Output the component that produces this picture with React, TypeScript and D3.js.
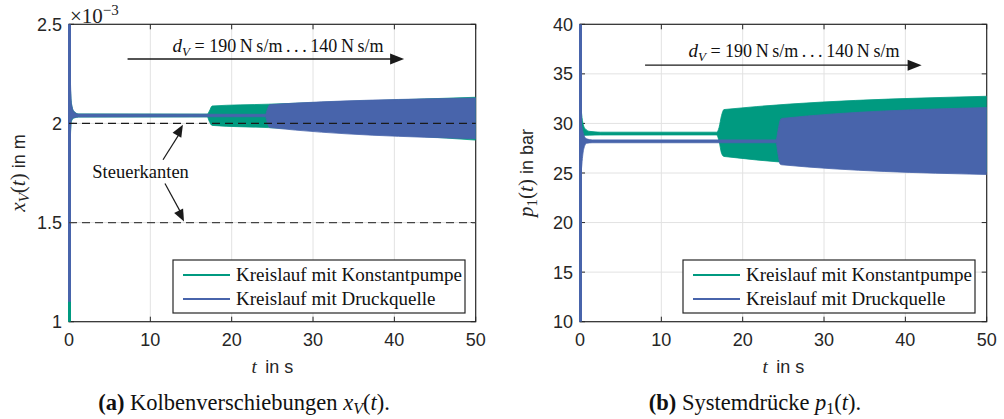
import React from 'react';
import * as d3 from 'd3';

// ---------- data ----------
const timeTicks = [0, 10, 20, 30, 40, 50];
const xvTicks = [1, 1.5, 2, 2.5];
const xvTickLabels = ['1', '1.5', '2', '2.5'];
const p1Ticks = [10, 15, 20, 25, 30, 35, 40];
const p1TickLabels = ['10', '15', '20', '25', '30', '35', '40'];

type Env = [number, number, number][]; // [t, upper, lower]

// piston displacement x_V in 1e-3 m (envelope of the oscillation)
const xvKonstantpumpe: Env = [
  [0, 2.34, 1.0], [0.06, 2.3, 1.3], [0.15, 2.2, 1.9], [0.3, 2.1, 2.012],
  [0.6, 2.06, 2.027], [1.2, 2.048, 2.032], [17.0, 2.047, 2.033],
  [17.25, 2.062, 2.01], [17.6, 2.088, 1.99], [24.5, 2.097, 1.979], [50, 2.132, 1.916],
];
const xvDruckquelle: Env = [
  [0, 2.5, 1.1], [0.06, 2.42, 1.4], [0.15, 2.25, 1.92], [0.3, 2.1, 2.017],
  [0.6, 2.06, 2.029], [1.2, 2.047, 2.033], [24.15, 2.046, 2.034],
  [24.4, 2.072, 2.0], [24.7, 2.095, 1.979], [50, 2.128, 1.923],
];
// initial transients at t = 0: [upper, lower]
const xvSpikes: [number, number][] = [[2.34, 1.0], [2.5, 1.1]];

// system pressure p1 in bar
const p1Konstantpumpe: Env = [
  [0, 32, 27], [0.1, 31.6, 28.6], [0.3, 30.3, 28.75], [0.6, 29.5, 28.8],
  [1.2, 29.2, 28.82], [2.5, 29.12, 28.84], [16.8, 29.12, 28.84],
  [17.1, 29.6, 28.2], [17.4, 30.8, 27.0], [17.7, 31.4, 26.67], [50, 32.74, 25.1],
];
const p1Druckquelle: Env = [
  [0, 40, 10], [0.1, 30.3, 24.5], [0.2, 29.8, 25.6], [0.45, 28.9, 27.4],
  [0.8, 28.45, 28.0], [1.5, 28.34, 28.05], [24.1, 28.34, 28.05],
  [24.35, 29.3, 26.9], [24.6, 30.3, 25.9], [24.8, 30.5, 25.83], [50, 31.6, 24.85],
];
const p1Spikes: [number, number][] = [[32, 27], [40, 10]];

const steuerkanten = [2.0, 1.5];
const legendLabels = ['Kreislauf mit Konstantpumpe', 'Kreislauf mit Druckquelle'];
const seriesColors = ['#009a80', '#4864ab'];

// ---------- style ----------
const AX = '#262626';
const GRID = '#e2e2e2';
const SANS = '"Liberation Sans", "DejaVu Sans", sans-serif';
const SERIF = '"Liberation Serif", "DejaVu Serif", serif';

function head(x1: number, y1: number, x2: number, y2: number, len: number, wid: number) {
  const a = Math.atan2(y2 - y1, x2 - x1);
  const bx = x2 - len * Math.cos(a), by = y2 - len * Math.sin(a);
  const nx = -Math.sin(a) * wid / 2, ny = Math.cos(a) * wid / 2;
  return `${x2},${y2} ${bx + nx},${by + ny} ${bx - nx},${by - ny}`;
}

type PanelProps = {
  id: string;
  left: number; right: number; top: number; bottom: number;
  yDomain: [number, number];
  yTicks: number[]; yLabels: string[];
  envs: Env[];
  spikes: [number, number][];
  extra: (x: d3.ScaleLinear<number, number>, y: d3.ScaleLinear<number, number>) => React.ReactNode;
  ylabel: React.ReactNode;
  ylabelX: number;
  legendX: number;
  caption: React.ReactNode;
  captionX: number;
};

function Panel(p: PanelProps) {
  const x = d3.scaleLinear().domain([0, 50]).range([p.left, p.right]);
  const y = d3.scaleLinear().domain(p.yDomain).range([p.bottom, p.top]);
  const area = d3.area<[number, number, number]>()
    .x(d => x(d[0])).y0(d => y(d[2])).y1(d => y(d[1]))
    .curve(d3.curveMonotoneX);
  const tl = 5;
  const lx = p.legendX, ly = 260, lw = 292, lh = 53;
  return (
    <g>
      <defs>
        <clipPath id={p.id}>
          <rect x={p.left - 2} y={p.top} width={p.right - p.left + 2} height={p.bottom - p.top} />
        </clipPath>
      </defs>
      <rect x={p.left} y={p.top} width={p.right - p.left} height={p.bottom - p.top} fill="#fff" />
      {timeTicks.slice(1, -1).map(t => (
        <line key={'gx' + t} x1={x(t)} x2={x(t)} y1={p.top} y2={p.bottom} stroke={GRID} strokeWidth={1} />
      ))}
      {p.yTicks.slice(1, -1).map(v => (
        <line key={'gy' + v} x1={p.left} x2={p.right} y1={y(v)} y2={y(v)} stroke={GRID} strokeWidth={1} />
      ))}
      <rect x={p.left} y={p.top} width={p.right - p.left} height={p.bottom - p.top} fill="none" stroke={AX} strokeWidth={1.2} />
      {timeTicks.map(t => (
        <g key={'tx' + t}>
          <line x1={x(t)} x2={x(t)} y1={p.bottom} y2={p.bottom - tl} stroke={AX} />
          <line x1={x(t)} x2={x(t)} y1={p.top} y2={p.top + tl} stroke={AX} />
          <text x={x(t)} y={346} textAnchor="middle" fontFamily={SANS} fontSize={18} fill={AX}>{t}</text>
        </g>
      ))}
      {p.yTicks.map((v, i) => (
        <g key={'ty' + v}>
          <line x1={p.left} x2={p.left + tl} y1={y(v)} y2={y(v)} stroke={AX} />
          <line x1={p.right} x2={p.right - tl} y1={y(v)} y2={y(v)} stroke={AX} />
          <text x={p.left - 7} y={y(v) + 6.5} textAnchor="end" fontFamily={SANS} fontSize={18} fill={AX}>{p.yLabels[i]}</text>
        </g>
      ))}
      <g clipPath={`url(#${p.id})`}>
        {p.envs.map((e, i) => (
          <path key={'env' + i} d={area(e) || ''} fill={seriesColors[i]} stroke={seriesColors[i]} strokeWidth={0.8} strokeLinejoin="round" />
        ))}
        {p.spikes.map((s, i) => (
          <line key={'sp' + i} x1={x(0) + 0.5} x2={x(0) + 0.5} y1={y(s[0])} y2={y(s[1])} stroke={seriesColors[i]} strokeWidth={3} />
        ))}
      </g>
      {p.extra(x, y)}
      {/* x label */}
      <text x={(p.left + p.right) / 2} y={373} textAnchor="middle" fontSize={18} fill={AX}>
        <tspan fontFamily={SERIF} fontStyle="italic" fontSize={19}>t</tspan>
        <tspan fontFamily={SANS}>{'\u2009 in s'}</tspan>
      </text>
      {/* y label */}
      <text transform={`translate(${p.ylabelX},${(p.top + p.bottom) / 2}) rotate(-90)`} textAnchor="middle" fontSize={18} fill={AX}>
        {p.ylabel}
      </text>
      {/* legend */}
      <rect x={lx} y={ly} width={lw} height={lh} fill="#fff" stroke={AX} strokeWidth={1.2} />
      {legendLabels.map((l, i) => (
        <g key={'lg' + i}>
          <line x1={lx + 10} x2={lx + 57} y1={ly + 15 + i * 24} y2={ly + 15 + i * 24} stroke={seriesColors[i]} strokeWidth={2.2} />
          <text x={lx + 63} y={ly + 21 + i * 24} fontFamily={SERIF} fontSize={19} fill="#111">{l}</text>
        </g>
      ))}
      {/* caption */}
      <text x={p.captionX} y={410} textAnchor="middle" fontFamily={SERIF} fontSize={22.5} fill="#111">
        {p.caption}
      </text>
    </g>
  );
}

function DvAnnotation({ x, y, t0, t1, v, tText, vText }: any) {
  const x1 = x(t0), x2 = x(t1), yy = y(v);
  return (
    <g>
      <line x1={x1} x2={x2 - 10} y1={yy} y2={yy} stroke="#1a1a1a" strokeWidth={1.3} />
      <polygon points={head(x1, yy, x2, yy, 14, 11)} fill="#1a1a1a" />
      <text x={x(tText)} y={y(vText)} textAnchor="middle" fontFamily={SERIF} fontSize={18} fill="#111">
        <tspan fontStyle="italic" fontSize={19}>d</tspan>
        <tspan fontStyle="italic" fontSize={13} dy={4}>V</tspan>
        <tspan dy={-4}>{' = 190\u2009N\u2009s/m\u2009.\u2009.\u2009.\u2009140\u2009N\u2009s/m'}</tspan>
      </text>
    </g>
  );
}

export default function App() {
  const W = 1004, H = 419;
  return (
    <svg width={W} height={H} style={{ position: 'absolute', left: 0, top: 0, background: '#fff' }}>
      <rect width={W} height={H} fill="#fff" />
      <Panel
        id="clipA" left={69} right={475.7} top={24.3} bottom={321.7}
        yDomain={[1, 2.5]} yTicks={xvTicks} yLabels={xvTickLabels}
        envs={[xvKonstantpumpe, xvDruckquelle]} spikes={xvSpikes}
        ylabelX={25} legendX={173} captionX={244}
        ylabel={<>
          <tspan fontFamily={SERIF} fontStyle="italic" fontSize={21}>x</tspan>
          <tspan fontFamily={SERIF} fontStyle="italic" fontSize={15} dy={4}>V</tspan>
          <tspan fontFamily={SERIF} fontSize={21} dy={-4}>(</tspan>
          <tspan fontFamily={SERIF} fontStyle="italic" fontSize={21}>t</tspan>
          <tspan fontFamily={SERIF} fontSize={21}>)</tspan>
          <tspan fontFamily={SANS}>{' in m'}</tspan>
        </>}
        caption={<>
          <tspan fontWeight="bold">(a)</tspan>
          <tspan>{' Kolbenverschiebungen '}</tspan>
          <tspan fontStyle="italic">x</tspan>
          <tspan fontStyle="italic" fontSize={16} dy={4}>V</tspan>
          <tspan dy={-4}>(</tspan>
          <tspan fontStyle="italic">t</tspan>
          <tspan>).</tspan>
        </>}
        extra={(x, y) => (
          <g>
            {steuerkanten.map((v, i) => (
              <line key={'sk' + v} x1={x(0)} x2={x(50)} y1={y(v)} y2={y(v)}
                stroke={i === 0 ? '#1a1a1a' : '#444'} strokeWidth={1.3} strokeDasharray="8,5" />
            ))}
            <text x={70} y={23} fontFamily={SERIF} fontSize={21} fill="#222">
              {'\u00d710'}
              <tspan fontSize={15} dy={-8}>{'\u22123'}</tspan>
            </text>
            <DvAnnotation x={x} y={y} t0={7.2} t1={41.2} v={2.325} tText={25.7} vText={2.36} />
            <text x={x(8.8)} y={y(1.727)} textAnchor="middle" fontFamily={SERIF} fontSize={18.5} fill="#111">Steuerkanten</text>
            <line x1={x(11.56)} y1={y(1.817)} x2={x(13.6)} y2={y(1.95)} stroke="#1a1a1a" strokeWidth={1.2} />
            <polygon points={head(x(11.56), y(1.817), x(14.0), y(1.993), 12, 10)} fill="#1a1a1a" />
            <line x1={x(11.8)} y1={y(1.697)} x2={x(13.75)} y2={y(1.55)} stroke="#1a1a1a" strokeWidth={1.2} />
            <polygon points={head(x(11.8), y(1.697), x(14.14), y(1.506), 12, 10)} fill="#1a1a1a" />
          </g>
        )}
      />
      <Panel
        id="clipB" left={580} right={986.7} top={24.3} bottom={321.7}
        yDomain={[10, 40]} yTicks={p1Ticks} yLabels={p1TickLabels}
        envs={[p1Konstantpumpe, p1Druckquelle]} spikes={p1Spikes}
        ylabelX={533} legendX={683} captionX={755}
        ylabel={<>
          <tspan fontFamily={SERIF} fontStyle="italic" fontSize={21}>p</tspan>
          <tspan fontFamily={SERIF} fontSize={15} dy={4}>1</tspan>
          <tspan fontFamily={SERIF} fontSize={21} dy={-4}>(</tspan>
          <tspan fontFamily={SERIF} fontStyle="italic" fontSize={21}>t</tspan>
          <tspan fontFamily={SERIF} fontSize={21}>)</tspan>
          <tspan fontFamily={SANS}>{' in bar'}</tspan>
        </>}
        caption={<>
          <tspan fontWeight="bold">(b)</tspan>
          <tspan>{' Systemdrücke '}</tspan>
          <tspan fontStyle="italic">p</tspan>
          <tspan fontSize={16} dy={4}>1</tspan>
          <tspan dy={-4}>(</tspan>
          <tspan fontStyle="italic">t</tspan>
          <tspan>).</tspan>
        </>}
        extra={(x, y) => (
          <DvAnnotation x={x} y={y} t0={8.0} t1={42.0} v={35.88} tText={26.3} vText={36.7} />
        )}
      />
    </svg>
  );
}
